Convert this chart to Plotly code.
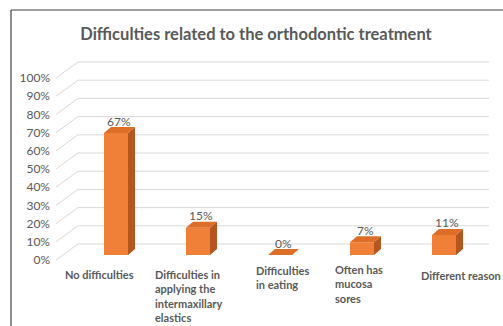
import plotly.graph_objects as go

# ---- data -------------------------------------------------------------
categories = [
    "No difficulties",
    "Difficulties in<br>applying the<br>intermaxillary<br>elastics",
    "Difficulties<br>in eating",
    "Often has<br>mucosa<br>sores",
    "Different reason",
]
values = [67, 15, 0, 7, 11]
tick_values = [0, 10, 20, 30, 40, 50, 60, 70, 80, 90, 100]
tick_labels = [f"{t}%" for t in tick_values]

title = "Difficulties related to the orthodontic treatment"

# ---- page geometry (pixels) -------------------------------------------
W, H = 503, 326
X0_PX, STEP_PX = 116, 82        # centre of first column, column pitch
ZERO_PX, PCT_PX = 255, 1.82     # baseline of columns, pixels per percent

def px_to_x(px):
    return (px - X0_PX) / STEP_PX

def px_to_y(py):
    return (ZERO_PX - py) / PCT_PX

x_range = [px_to_x(0), px_to_x(W)]
y_range = [px_to_y(H), px_to_y(0)]

# pseudo-3D offsets, expressed in axis units
BAR_W = 24 / STEP_PX
DEPTH_DX = 7 / STEP_PX
DEPTH_DY = 6 / PCT_PX
WALL_FRONT_X = px_to_x(56)
WALL_BACK_X = px_to_x(78)
WALL_RIGHT_X = px_to_x(489)
WALL_FRONT_DY = -5 / PCT_PX
WALL_BACK_DY = 11 / PCT_PX

FRONT = "#F07F38"
TOP = "#DC6E28"
SIDE = "#B4561E"
GRID = "#D9D9D9"
TEXT = "#595959"
FONT = "Lato"

fig = go.Figure()

# back wall and side wall grid lines (kept beneath the columns)
for t in tick_values:
    fig.add_shape(type="path", xref="x", yref="y", layer="below",
                  path=(f"M {WALL_FRONT_X} {t + WALL_FRONT_DY} "
                        f"L {WALL_BACK_X} {t + WALL_BACK_DY} "
                        f"L {WALL_RIGHT_X} {t + WALL_BACK_DY}"),
                  line=dict(color=GRID, width=1))

# column fronts
xs = list(range(len(values)))
fig.add_trace(go.Bar(x=xs, y=values, width=BAR_W, marker=dict(color=FRONT, line=dict(width=0)),
                     showlegend=False, hoverinfo="skip"))

# column side and top faces
sx, sy, tx, ty = [], [], [], []
for i, v in zip(xs, values):
    x0, x1 = i - BAR_W / 2, i + BAR_W / 2
    if v > 0:
        sx += [x1, x1 + DEPTH_DX, x1 + DEPTH_DX, x1, x1, None]
        sy += [0, DEPTH_DY, v + DEPTH_DY, v, 0, None]
    tx += [x0, x1, x1 + DEPTH_DX, x0 + DEPTH_DX, x0, None]
    ty += [v, v, v + DEPTH_DY, v + DEPTH_DY, v, None]
fig.add_trace(go.Scatter(x=sx, y=sy, mode="lines", fill="toself", fillcolor=SIDE,
                         line=dict(width=0, color=SIDE), hoverinfo="skip", showlegend=False))
fig.add_trace(go.Scatter(x=tx, y=ty, mode="lines", fill="toself", fillcolor=TOP,
                         line=dict(width=0, color=TOP), hoverinfo="skip", showlegend=False))

# value labels
for i, v in zip(xs, values):
    fig.add_annotation(x=i, y=v, xref="x", yref="y", text=f"{v}%", showarrow=False,
                       xshift=3, yshift=12, yanchor="middle",
                       font=dict(family=FONT, size=12, color=TEXT))

# category labels
label_dx = [-53, -45, -26, -29, -25]
label_top = [266, 266, 262, 261, 267]
for i, (lab, dx, top) in enumerate(zip(categories, label_dx, label_top)):
    fig.add_annotation(x=i, y=1 - top / H, xref="x", yref="paper", text=f"<b>{lab}</b>",
                       showarrow=False, xanchor="left", yanchor="top", align="left",
                       xshift=dx, font=dict(family=FONT, size=11, color=TEXT))

# frame
fig.add_shape(type="line", xref="paper", yref="paper", x0=11 / W, x1=1.05, y0=1 - 10 / H, y1=1 - 10 / H,
              line=dict(color="#404040", width=1.2))
fig.add_shape(type="line", xref="paper", yref="paper", x0=11 / W, x1=11 / W, y0=-0.05, y1=1 - 10 / H,
              line=dict(color="#404040", width=1.2))

fig.update_layout(
    width=W, height=H,
    margin=dict(l=0, r=0, t=0, b=0),
    paper_bgcolor="white", plot_bgcolor="white",
    title=dict(text=f"<b>{title}</b>", x=256 / W, xanchor="center", y=1 - 34 / H, yanchor="middle",
               font=dict(family=FONT, size=16.5, color=TEXT)),
    xaxis=dict(range=x_range, visible=False, fixedrange=True),
    yaxis=dict(range=y_range, visible=False, fixedrange=True),
    yaxis2=dict(range=[(260 - H) / PCT_PX, 260 / PCT_PX], overlaying="y", anchor="free",
                position=50 / W, side="left", tickvals=tick_values, ticktext=tick_labels,
                showgrid=False, zeroline=False, showline=False, ticks="",
                tickfont=dict(family=FONT, size=12, color=TEXT), fixedrange=True),
)
# invisible point so the percent axis is drawn
fig.add_trace(go.Scatter(x=[0], y=[0], yaxis="y2", mode="markers", marker=dict(opacity=0),
                         hoverinfo="skip", showlegend=False))

fig.write_html("out.html")
